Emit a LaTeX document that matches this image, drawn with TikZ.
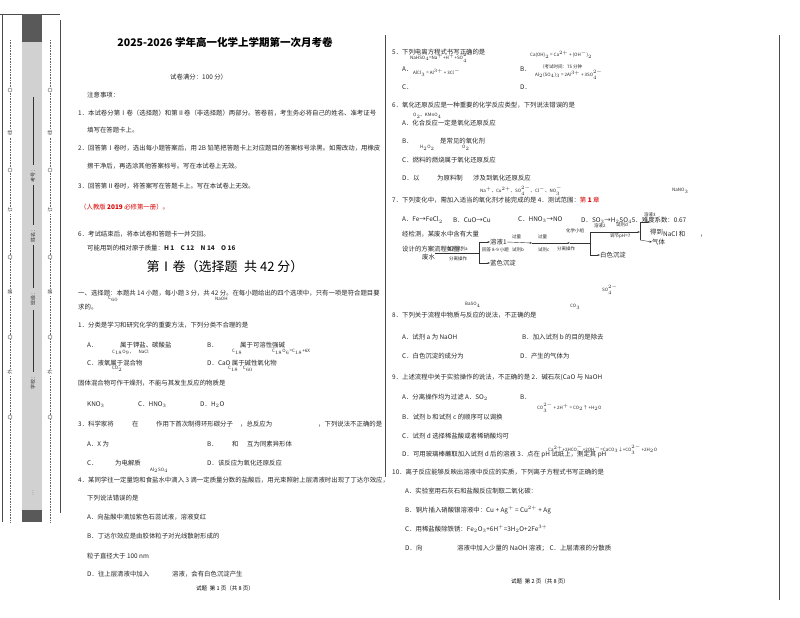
\documentclass[tikz,border=0pt]{standalone}
\usepackage{fontspec}
\setmainfont{Noto Sans CJK SC}
\usetikzlibrary{arrows.meta}
\begin{document}
\begin{tikzpicture}[x=1pt,y=-1pt,
 t/.style={anchor=west,inner sep=0,font=\fontsize{6.4}{7}\selectfont,text=black!85},
 ts/.style={anchor=west,inner sep=0,font=\fontsize{4.5}{5}\selectfont,text=black!85},
 frame/.style={draw=black!70,line width=0.6pt},
 dl/.style={draw=black!60,dashed,dash pattern=on 1pt off 0.6pt,line width=0.4pt},
 fl/.style={draw=black!80,line width=0.4pt},
 fa/.style={fl,-{Stealth[length=2.5pt]}},
 vt/.style={inner sep=0,rotate=90,font=\fontsize{5}{6}\selectfont,text=black!80}]
\useasboundingbox[fill=white] (0,0) rectangle (800,618);
% ---- left strip
\draw[frame] (2,14) -- (2,522);
\draw[frame] (0,14) -- (60,14);
\fill[black!18] (22,14) rectangle (42,522);
\fill[black!65] (22,14) rectangle (42,42);
\fill[black!65] (22,510) rectangle (42,522);
\draw[fl] (33,97) -- (33,165) (33,185) -- (33,225) (33,245) -- (33,288) (33,310) -- (33,372);
\node[vt] (k1) at (33,175) {考号：};
\node[vt] (k2) at (33,235) {姓名：};
\node[vt] (k3) at (33,298) {班级：};
\node[vt] (k4) at (33,382) {学校：};
\node[vt] (k5) at (33,493) {…};
\foreach \x in {10,50}{
 \draw[dl] (\x,40) -- (\x,522);
 \foreach \y in {90,170,257,337,417}{\draw[fill=white,draw=black!60,line width=0.4pt] (\x,\y) circle (2);}
 \node[vt,fill=white,inner sep=1pt] at (\x,133) {线};
 \node[vt,fill=white,inner sep=1pt] at (\x,210) {订};
 \node[vt,fill=white,inner sep=1pt] at (\x,292) {装};
 \node[vt,fill=white,inner sep=1pt] at (\x,372) {外};
}
% ---- frames
\draw[frame] (60,20) -- (60,513);
\draw[frame] (385,35) -- (385,477);
\draw[frame] (779,35) -- (779,600);
% ---- left column
\node[inner sep=0,font=\fontsize{10.5}{12}\selectfont\bfseries] (title) at (225,43) {2025-2026 学年高一化学上学期第一次月考卷};
\node[t] (a1) at (170,77) {试卷满分：100 分）};
\node[t] at (87,95) {注意事项：};
\node[t] at (78,113) {1．本试卷分第Ⅰ卷（选择题）和第Ⅱ卷（非选择题）两部分。答卷前，考生务必将自己的姓名、准考证号};
\node[t] at (87,130) {填写在答题卡上。};
\node[t] at (78,148) {2．回答第Ⅰ卷时，选出每小题答案后，用 2B 铅笔把答题卡上对应题目的答案标号涂黑。如需改动，用橡皮};
\node[t] at (87,166) {擦干净后，再选涂其他答案标号。写在本试卷上无效。};
\node[t] at (78,186) {3．回答第Ⅱ卷时，将答案写在答题卡上。写在本试卷上无效。};
\node[t,text=red!85!black] at (80,207) {（人教版 \textbf{2019} 必修第一册）。};
\node[t] at (78,234) {6．考试结束后，将本试卷和答题卡一并交回。};
\node[t] at (87,248) {可能用到的相对原子质量：\textbf{H 1\quad C 12\quad N 14\quad O 16}};
\node[inner sep=0,font=\fontsize{13}{15}\selectfont] (sec) at (225,267) {第Ⅰ卷（选择题\enspace 共 42 分）};
\node[t] at (78,293) {一、选择题：本题共 14 小题，每小题 3 分，共 42 分。在每小题给出的四个选项中，只有一项是符合题目要};
\node[ts] at (108,299) {C$_{60}$};
\node[ts] at (215,299) {NaOH};
\node[t] at (78,307) {求的。};
\node[t] at (78,325) {1．分类是学习和研究化学的重要方法，下列分类不合理的是};
\node[t] at (87,345) {A．};
\node[t] at (120,345) {属于钾盐、碳酸盐};
\node[t] at (207,345) {B．};
\node[t] at (240,345) {属于可溶性强碱};
\node[ts] at (112,352) {C$_{18}$O$_9$，\quad NaCl};
\node[ts] at (232,352) {C$_{18}$};
\node[ts] at (272,352) {C$_{18}$O$_6$=C$_{18}$+6X};
\node[t] at (87,363) {C．液氧属于混合物};
\node[t] at (207,363) {D．CaO 属于碱性氧化物};
\node[ts] at (112,369) {CO$_2$};
\node[ts] at (228,369) {C$_{18}$\quad C$_{60}$};
\node[t] at (78,383) {固体混合物可作干燥剂，不能与其发生反应的物质是};
\node[t] at (87,405) {KNO$_3$};
\node[t] at (138,405) {C．HNO$_3$};
\node[t] at (200,405) {D．H$_2$O};
\node[t] at (78,424) {3．科学家将};
\node[t] at (132,424) {在};
\node[t] at (156,424) {作用下首次制得环形碳分子};
\node[t] at (240,424) {，总反应为};
\node[t] at (318,424) {，下列说法不正确的是};
\node[t] at (87,444) {A．X 为};
\node[t] at (207,444) {B．};
\node[t] at (232,444) {和};
\node[t] at (247,444) {互为同素异形体};
\node[t] at (87,463) {C．};
\node[t] at (115,463) {为电解质};
\node[t] at (207,463) {D．该反应为氧化还原反应};
\node[ts] at (150,470) {Al$_2$SO$_4$};
\node[t] at (78,480) {4．某同学往一定量饱和食盐水中滴入 3 滴一定质量分数的盐酸后，用光束照射上层清液时出现了丁达尔效应，};
\node[t] at (87,498) {下列说法错误的是};
\node[t] at (87,517) {A．向盐酸中滴加紫色石蕊试液，溶液变红};
\node[t] at (87,536) {B．丁达尔效应是由胶体粒子对光线散射形成的};
\node[t] at (87,556) {粒子直径大于 100 nm};
\node[t] at (87,574) {D．往上层清液中加入};
\node[t] at (172,574) {溶液，会有白色沉淀产生};
\node[inner sep=0,font=\fontsize{5.5}{6}\selectfont] (p1) at (225,588) {试题\enspace 第 1 页（共 8 页）};
% ---- right column
\node[t] at (392,52) {5．下列电离方程式书写正确的是};
\node[ts] at (410,58) {NaHSO$_4$=Na$^+$+H$^+$+SO$_4^{2-}$};
\node[ts] at (530,55) {Ca(OH)$_2$ = Ca$^{2+}$ + (OH$^-$)$_2$};
\node[t] at (402,69) {A．};
\node[ts] at (413,73) {AlCl$_3$ = Al$^{3+}$ + 3Cl$^-$};
\node[t] at (520,69) {B．};
\node[ts] at (540,67) {（考试时间：75 分钟};
\node[ts] at (535,75) {Al$_2$(SO$_4$)$_3$ = 2Al$^{3+}$ + 3SO$_4^{2-}$};
\node[t] at (402,87) {C．};
\node[t] at (520,87) {D．};
\node[t] at (392,105) {6．氧化还原反应是一种重要的化学反应类型，下列说法错误的是};
\node[ts] at (413,116) {O$_2$、KMnO$_4$};
\node[t] at (402,123) {A．化合反应一定是氧化还原反应};
\node[t] at (402,141) {B．};
\node[t] at (440,141) {是常见的氧化剂};
\node[ts] at (420,148) {H$_2$O$_2$};
\node[ts] at (462,148) {O$_2$};
\node[t] at (402,160) {C．燃料的燃烧属于氧化还原反应};
\node[t] at (402,178) {D．以};
\node[t] at (437,178) {为原料制};
\node[t] at (473,178) {涉及到氧化还原反应};
\node[ts] at (480,191) {Na$^+$、Cu$^{2+}$、SO$_4^{2-}$、Cl$^-$、NO$_3^-$};
\node[ts] at (672,191) {NaNO$_3$};
\node[t] at (392,200) {7．下列变化中，需加入适当的氧化剂才能完成的是 4．测试范围：\textcolor{red!85!black}{第 \textbf{1} 章}};
\node[t] at (402,220) {A．Fe→FeCl$_2$};
\node[t] at (453,220) {B．CuO→Cu};
\node[t] at (518,220) {C．HNO$_3$→NO};
\node[t] at (581,220) {D．SO$_3$→H$_2$SO$_4$5．难度系数：0.67};
\node[t] at (402,234) {经检测，某废水中含有大量};
\node[t] at (663,234) {NaCl 和};
\node[t] at (700,236) {，};
\node[t] at (402,249) {设计的方案流程如图：};
% flowchart
\node[t] (fs) at (422,257) {废水};
\node[ts] (fa) at (447,249) {加入试剂a};
\node[ts] (fb) at (449,259) {分离操作};
\coordinate (j1) at (479,253);
\draw[fl] (fs.east) ++(0,-4) coordinate (fs1) -- (fs1 -| j1);
\draw[fl] (479,242) -- (479,263);
\node[t] (s1) at (490,242) {溶液1};
\node[t] (s2) at (490,263) {蓝色沉淀};
\draw[fa] (479,242) -- (s1.west);
\draw[fa] (479,263) -- (s2.west);
\node[ts] at (482,250) {回答 8-9 小题};
\node[ts] at (512,237) {过量};
\node[ts] at (512,250) {试剂b};
\node[ts] at (538,237) {过量};
\node[ts] at (538,250) {试剂c};
\draw[fa] (s1.east) -- (532,243);
\draw[fa] (532,243) -- (570,243);
\node[ts] at (566,231) {化学小组};
\node[ts] at (557,249) {分离操作};
\draw[fl] (570,243) -- (590,243);
\draw[fl] (590,232) -- (590,255);
\node[t] (s3) at (600,255) {白色沉淀};
\draw[fa] (590,255) -- (s3.west);
\node[ts] at (594,226) {溶液2};
\node[ts] at (616,225) {试剂d};
\node[ts] at (610,236) {调节pH=7};
\draw[fa] (590,232) -- (640,232);
\draw[fl] (640,222) -- (640,240);
\node[ts] at (644,215) {溶液3};
\node[t] (s4) at (650,232) {得到};
\node[t] (s5) at (652,242) {气体};
\draw[fa] (640,222) -- (650,222);
\draw[fa] (640,240) -- (s5.west);
\node[ts] at (602,290) {SO$_4^{2-}$};
\node[ts] at (465,305) {BaSO$_4$};
\node[ts] at (570,307) {CO$_3$};
\node[t] at (392,315) {8．下列关于流程中物质与反应的说法，不正确的是};
\node[t] at (402,337) {A．试剂 a 为 NaOH};
\node[t] at (522,337) {B．加入试剂 b 的目的是除去};
\node[t] at (402,356) {C．白色沉淀的成分为};
\node[t] at (520,356) {D．产生的气体为};
\node[t] at (392,377) {9．上述流程中关于实验操作的说法，不正确的是 2．碱石灰(CaO 与 NaOH};
\node[t] at (402,397) {A．分离操作均为过滤 A．SO$_2$};
\node[t] at (520,397) {B．};
\node[ts] at (537,408) {CO$_3^{2-}$ + 2H$^+$ = CO$_2$↑ +H$_2$O};
\node[t] at (402,417) {B．试剂 b 和试剂 c 的顺序可以调换};
\node[t] at (402,436) {C．试剂 d 选择稀盐酸或者稀硝酸均可};
\node[t] at (402,455) {D．可用玻璃棒蘸取加入试剂 d 后的溶液 3．点在 pH 试纸上，测定其 pH};
\node[ts] at (548,450) {Ca$^{2+}$+2HCO$_3^-$+2OH$^-$=CaCO$_3$↓+CO$_3^{2-}$ +2H$_2$O};
\node[t] at (392,472) {10．离子反应能够反映出溶液中反应的实质，下列离子方程式书写正确的是};
\node[t] at (405,491) {A．实验室用石灰石和盐酸反应制取二氧化碳：};
\node[t] at (405,510) {B．铜片插入硝酸银溶液中：Cu + Ag$^+$ = Cu$^{2+}$ + Ag};
\node[t] at (405,529) {C．用稀盐酸除铁锈：Fe$_2$O$_3$+6H$^+$=3H$_2$O+2Fe$^{3+}$};
\node[t] at (405,548) {D．向};
\node[t] at (457,548) {溶液中加入少量的 NaOH 溶液； C．上层清液的分散质};
\node[inner sep=0,font=\fontsize{5.5}{6}\selectfont] (p2) at (540,581) {试题\enspace 第 2 页（共 8 页）};
\end{tikzpicture}
\end{document}
